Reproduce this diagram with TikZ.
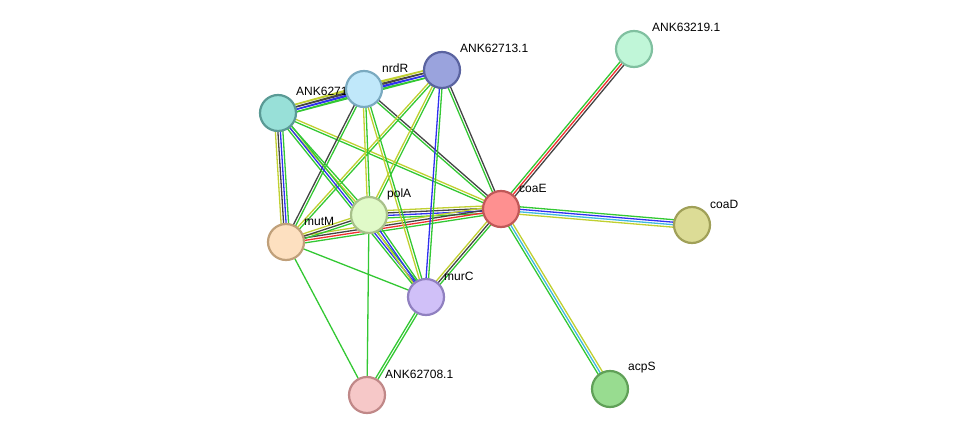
\documentclass[tikz,border=0pt]{standalone}
\usepackage{fontspec}
\setmainfont{Liberation Sans}
\usepackage{xcolor}
\usepackage{tikz}
\usetikzlibrary{calc,backgrounds}

\definecolor{lgreen}{HTML}{33C833}
\definecolor{lblue}{HTML}{3030F0}
\definecolor{lblack}{HTML}{444444}
\definecolor{lred}{HTML}{F03030}
\definecolor{lcyan}{HTML}{40B8E0}
\definecolor{lyellow}{HTML}{C0D030}

% parallel evidence lines between two proteins
\newcommand{\bundle}[3]{%
  \foreach \col [count=\k] in {#3} {\xdef\nbund{\k}}%
  \foreach \col [count=\k] in {#3} {%
    \pgfmathsetmacro{\off}{((\nbund+1)/2-\k)*2.5}%
    \draw[ev, draw=\col] ($(#1.center)!\off pt!90:(#2.center)$) -- ($(#2.center)!\off pt!-90:(#1.center)$);
  }%
}

\begin{document}
\begin{tikzpicture}[
    x=1pt, y=-1pt,
    prot/.style={draw, circle, line width=2.2pt, minimum size=36pt, inner sep=0pt},
    lbl/.style={anchor=west, font=\fontsize{12}{14}\selectfont, inner sep=0pt},
    ev/.style={line width=1.3pt},
]
\useasboundingbox (0,0) rectangle (975,441);

% Proteins
\node[prot, fill={rgb,255:red,192;green,246;blue,216}, draw={rgb,255:red,128;green,192;blue,160}] (ANK63219) at (634,49) {};
\node[lbl] (ANK63219-t) at ([shift={(18,-22)}]ANK63219.center) {ANK63219.1};
\node[prot, fill={rgb,255:red,154;green,163;blue,221}, draw={rgb,255:red,90;green,99;blue,160}] (ANK62713) at (442,70) {};
\node[lbl] (ANK62713-t) at ([shift={(18,-22)}]ANK62713.center) {ANK62713.1};
\node[prot, fill={rgb,255:red,152;green,224;blue,216}, draw={rgb,255:red,90;green,154;blue,149}] (ANK6271) at (278,113) {};
\node[lbl] (ANK6271-t) at ([shift={(18,-22)}]ANK6271.center) {ANK6271};
\node[prot, fill={rgb,255:red,192;green,232;blue,250}, draw={rgb,255:red,122;green,170;blue,192}] (nrdR) at (364,89) {};
\node[lbl] (nrdR-t) at ([shift={(18,-21)}]nrdR.center) {nrdR};
\node[prot, fill={rgb,255:red,254;green,144;blue,144}, draw={rgb,255:red,192;green,88;blue,88}] (coaE) at (501,209) {};
\node[lbl] (coaE-t) at ([shift={(18,-21)}]coaE.center) {coaE};
\node[prot, fill={rgb,255:red,220;green,220;blue,150}, draw={rgb,255:red,160;green,160;blue,88}] (coaD) at (692,225) {};
\node[lbl] (coaD-t) at ([shift={(18,-21)}]coaD.center) {coaD};
\node[prot, fill={rgb,255:red,224;green,250;blue,200}, draw={rgb,255:red,168;green,192;blue,138}] (polA) at (369,215) {};
\node[lbl] (polA-t) at ([shift={(18,-21)}]polA.center) {polA};
\node[prot, fill={rgb,255:red,253;green,224;blue,192}, draw={rgb,255:red,192;green,160;blue,122}] (mutM) at (286,242) {};
\node[lbl] (mutM-t) at ([shift={(18,-21)}]mutM.center) {mutM};
\node[prot, fill={rgb,255:red,208;green,192;blue,248}, draw={rgb,255:red,144;green,128;blue,192}] (murC) at (426,297) {};
\node[lbl] (murC-t) at ([shift={(18,-21)}]murC.center) {murC};
\node[prot, fill={rgb,255:red,246;green,200;blue,200}, draw={rgb,255:red,192;green,136;blue,136}] (ANK62708) at (367,395) {};
\node[lbl] (ANK62708-t) at ([shift={(18,-21)}]ANK62708.center) {ANK62708.1};
\node[prot, fill={rgb,255:red,152;green,220;blue,144}, draw={rgb,255:red,96;green,160;blue,88}] (acpS) at (610,389) {};
\node[lbl] (acpS-t) at ([shift={(18,-21)}]acpS.center) {acpS};

% Evidence lines
\begin{pgfonlayer}{background}
\bundle{coaE}{ANK63219}{lgreen,lred,lblack}
\bundle{coaE}{coaD}{lgreen,lblue,lcyan,lyellow}
\bundle{coaE}{acpS}{lyellow,lcyan,lgreen}
\bundle{coaE}{murC}{lgreen,lblack,lyellow}
\bundle{coaE}{polA}{lgreen,lblue,lblack,lyellow}
\bundle{coaE}{mutM}{lgreen,lred,lblack,lyellow}
\bundle{coaE}{ANK62713}{lgreen,lblack}
\bundle{coaE}{nrdR}{lgreen,lblack}
\bundle{coaE}{ANK6271}{lgreen,lyellow}
\bundle{ANK62713}{nrdR}{lgreen,lblue,lblack,lyellow}
\bundle{ANK62713}{ANK6271}{lgreen,lblue,lblack,lyellow}
\bundle{ANK62713}{murC}{lgreen,lblue}
\bundle{ANK62713}{polA}{lgreen,lyellow}
\bundle{ANK62713}{mutM}{lgreen,lyellow}
\bundle{nrdR}{ANK6271}{lgreen,lblue,lblack,lyellow}
\bundle{nrdR}{polA}{lgreen,lyellow}
\bundle{nrdR}{murC}{lgreen,lyellow}
\bundle{nrdR}{mutM}{lgreen,lblack}
\bundle{ANK6271}{mutM}{lgreen,lblue,lblack,lyellow}
\bundle{ANK6271}{polA}{lgreen,lyellow}
\bundle{ANK6271}{murC}{lgreen,lblue,lgreen}
\bundle{polA}{mutM}{lgreen,lblack,lyellow}
\bundle{polA}{murC}{lgreen,lblue,lyellow}
\bundle{mutM}{murC}{lgreen}
\bundle{mutM}{ANK62708}{lgreen}
\bundle{polA}{ANK62708}{lgreen}
\bundle{murC}{ANK62708}{lgreen,lgreen}
\end{pgfonlayer}

\end{tikzpicture}
\end{document}
